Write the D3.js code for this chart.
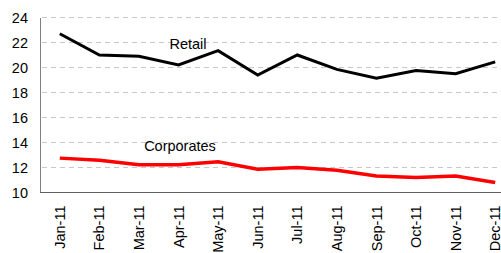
<!DOCTYPE html>
<html>
<head>
<meta charset="utf-8">
<script src="https://cdn.jsdelivr.net/npm/d3@7"></script>
<style>
body { margin: 0; background: #fff; }
svg { font-family: "Liberation Sans", Arial, sans-serif; }
</style>
</head>
<body>
<div class="container"></div>
<script>
"use strict";

var width = 501;
var height = 253;

var months = ["Jan-11", "Feb-11", "Mar-11", "Apr-11", "May-11", "Jun-11",
    "Jul-11", "Aug-11", "Sep-11", "Oct-11", "Nov-11", "Dec-11"];
var retail = [22.7, 21.0, 20.9, 20.2, 21.35, 19.4, 21.0, 19.85, 19.15, 19.75, 19.5, 20.45];
var corporates = [12.75, 12.58, 12.23, 12.23, 12.45, 11.87, 12.0, 11.78, 11.32, 11.2, 11.32, 10.8];
var yTicks = [10, 12, 14, 16, 18, 20, 22, 24];

// the category axis runs off the right edge, like the original screenshot
var x = d3.scaleBand().domain(months).range([40, 515]);
var y = d3.scaleLinear().domain([10, 24]).range([192.5, 17.5]);

var svg = d3.select(".container").append("svg")
    .attr("width", width)
    .attr("height", height);

// dashed gridlines
svg.append("g")
    .selectAll("line")
    .data(yTicks.filter(d => d > 10))
    .enter().append("line")
    .attr("x1", 42)
    .attr("x2", width)
    .attr("y1", d => y(d))
    .attr("y2", d => y(d))
    .attr("stroke", "#c8c8c8")
    .attr("stroke-width", 1)
    .attr("stroke-dasharray", "5,4");

// y axis
var yAxis = svg.append("g")
    .attr("transform", "translate(40,0)")
    .call(d3.axisLeft(y).tickValues(yTicks).tickSize(0).tickPadding(12));
yAxis.select(".domain").attr("stroke", "#808080");
yAxis.selectAll("text").attr("font-size", 14.5).attr("fill", "#000");

// x axis
var xAxis = svg.append("g")
    .attr("transform", "translate(0," + y(10) + ")")
    .call(d3.axisBottom(x).tickSize(0).tickPadding(0));
xAxis.select(".domain").attr("stroke", "#606060").attr("d", "M40,0H" + width);
xAxis.selectAll("text")
    .attr("font-size", 14.5)
    .attr("fill", "#000")
    .attr("transform", "rotate(-90)")
    .attr("text-anchor", "end")
    .attr("x", -13)
    .attr("y", 0)
    .attr("dy", "0.35em");

var line = d3.line()
    .x((d, i) => x(months[i]) + x.bandwidth() / 2)
    .y(d => y(d));

svg.append("path")
    .datum(retail)
    .attr("fill", "none")
    .attr("stroke", "#000")
    .attr("stroke-width", 3)
    .attr("d", line);

svg.append("path")
    .datum(corporates)
    .attr("fill", "none")
    .attr("stroke", "#ff0000")
    .attr("stroke-width", 3.5)
    .attr("d", line);

// series labels
svg.append("text")
    .attr("x", 188)
    .attr("y", 49)
    .attr("text-anchor", "middle")
    .attr("font-size", 14.5)
    .text("Retail");

svg.append("text")
    .attr("x", 180)
    .attr("y", 151)
    .attr("text-anchor", "middle")
    .attr("font-size", 14.5)
    .text("Corporates");
</script>
</body>
</html>
